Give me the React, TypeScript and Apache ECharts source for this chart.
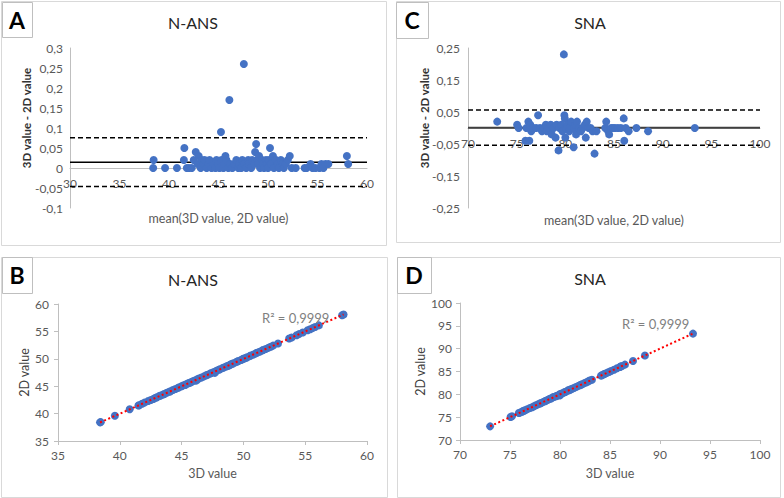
import React, { useEffect, useRef } from 'react';
import * as echarts from 'echarts';

// N-ANS: mean(3D, 2D) and difference (3D - 2D)
const nansMean = [
  38.4, 38.45, 39.6, 40.8, 41.5, 41.55, 41.8, 42.0, 42.3, 42.5,
  42.7, 42.9, 43.0, 43.2, 43.3, 43.5, 43.6, 43.8, 44.0, 44.1,
  44.3, 44.5, 44.7, 44.8, 45.0, 45.1, 45.25, 45.3, 45.5, 45.6,
  45.7, 45.8, 46.0, 46.1, 46.2, 46.4, 46.6, 46.8, 47.0, 47.1,
  47.3, 47.4, 47.56, 47.6, 47.8, 48.0, 48.1, 48.3, 48.4, 48.6,
  48.7, 48.8, 48.9, 49.0, 49.1, 49.2, 49.4, 49.5, 49.6, 49.8,
  49.9, 50.0, 50.1, 50.2, 50.3, 50.5, 50.6, 50.8, 51.0, 51.1,
  51.3, 51.5, 51.6, 51.8, 52.0, 52.2, 52.4, 52.8, 53.7, 53.9,
  54.3, 54.5, 54.8, 55.2, 55.4, 55.6, 55.8, 56.1, 57.97, 58.1,
];
const nansDiff = [
  0, 0.02, 0, 0, 0.02, 0.05, 0, 0, 0, 0.02,
  0.04, 0.01, 0.03, 0, 0.02, 0.01, 0.02, 0, 0.01, 0.02,
  0, 0.01, 0, 0.02, 0.01, 0, 0.09, 0.02, 0, 0.01,
  0.03, 0.02, 0, 0.17, 0.01, 0, 0.01, 0.02, 0, 0.01,
  0, 0.02, 0.26, 0.01, 0, 0.02, 0.01, 0, 0.02, 0.01,
  0.04, 0.06, 0.02, 0.01, 0.03, 0, 0.02, 0.01, 0, 0.02,
  0.01, 0, 0.02, 0.05, 0.01, 0.03, 0, 0.02, 0.01, 0,
  0.02, 0.01, 0, 0.01, 0.02, 0.03, 0, 0, 0, 0,
  0.01, 0, 0, 0, 0.01, 0, 0.01, 0.01, 0.03, 0.01,
];
const nansBias = 0.0145;
const nansUpper = 0.0755;
const nansLower = -0.0465;

// SNA: mean(3D, 2D) and difference (3D - 2D)
const snaMean = [
  73.0, 75.05, 75.2, 75.9, 76.0, 76.2, 76.3, 76.4, 76.5, 76.7,
  77.0, 77.2, 77.4, 77.6, 77.8, 78.0, 78.1, 78.3, 78.5, 78.6,
  78.8, 79.0, 79.1, 79.3, 79.4, 79.6, 79.7, 79.85, 79.9, 79.95,
  80.0, 80.1, 80.2, 80.4, 80.5, 80.6, 80.85, 80.9, 81.0, 81.1,
  81.2, 81.4, 81.6, 81.8, 82.0, 82.1, 82.2, 82.4, 82.6, 82.8,
  83.0, 83.2, 84.1, 84.2, 84.4, 84.5, 84.7, 84.9, 85.1, 85.4,
  85.7, 86.0, 86.05, 86.2, 86.5, 87.3, 88.5, 93.3,
];
const snaDiff = [
  0.02, 0.01, 0, -0.04, 0, 0.02, -0.04, 0.01, -0.01, 0,
  0, 0.04, 0, -0.01, 0, 0.01, -0.01, 0, 0.01, -0.02,
  0, -0.03, 0.01, -0.07, 0, 0.01, -0.01, 0.23, 0.04, 0.03,
  -0.03, 0, 0.01, -0.01, 0, 0.02, -0.06, 0, 0.01, -0.02,
  0.02, 0, -0.01, 0, 0.01, -0.03, 0.02, 0, 0, -0.01,
  -0.08, -0.01, 0, 0.02, -0.01, -0.02, 0, 0, 0, 0,
  0, 0.03, -0.04, 0, -0.01, 0, -0.01, 0,
];
const snaBias = 0.001;
const snaUpper = 0.056;
const snaLower = -0.054;

const panelLetters = ['A', 'C', 'B', 'D'];
const panelTitles = ['N-ANS', 'SNA', 'N-ANS', 'SNA'];
const r2Text = 'R² = 0,9999';
const baTitleX = 'mean(3D value, 2D value)';
const baTitleY = '3D value - 2D value';
const scTitleX = '3D value';
const scTitleY = '2D value';

const BLUE = '#4472C4';
const LABEL = '#595959';
const AXIS = '#bfbfbf';
const FONT = 'Lato, "Noto Sans", sans-serif';

const comma = (v: number) => String(+v.toFixed(3)).replace('.', ',');

function regression(xs: number[], ys: number[]) {
  const n = xs.length;
  const mx = xs.reduce((a, b) => a + b, 0) / n;
  const my = ys.reduce((a, b) => a + b, 0) / n;
  let sxy = 0, sxx = 0;
  for (let i = 0; i < n; i++) { sxy += (xs[i] - mx) * (ys[i] - my); sxx += (xs[i] - mx) ** 2; }
  const slope = sxy / sxx;
  const icpt = my - slope * mx;
  const x0 = Math.min(...xs), x1 = Math.max(...xs);
  return [[x0, icpt + slope * x0], [x1, icpt + slope * x1]];
}

export default function App() {
  const ref = useRef<HTMLDivElement>(null);
  useEffect(() => {
    if (!ref.current) return;
    const chart = echarts.init(ref.current, undefined, { renderer: 'svg' });

    const nans3D = nansMean.map((m, i) => m + nansDiff[i] / 2);
    const nans2D = nansMean.map((m, i) => m - nansDiff[i] / 2);
    const sna3D = snaMean.map((m, i) => m + snaDiff[i] / 2);
    const sna2D = snaMean.map((m, i) => m - snaDiff[i] / 2);

    const grids = [
      { left: 70, top: 48, width: 297, height: 160 },
      { left: 468, top: 48, width: 292, height: 160 },
      { left: 58, top: 304, width: 309, height: 137 },
      { left: 460, top: 303, width: 300, height: 137 },
    ].map((g) => ({ ...g, containLabel: false, outerBoundsMode: 'none' }));

    const labelStyle = { color: LABEL, fontSize: 12, fontFamily: FONT };
    const nameStyle = { color: LABEL, fontSize: 12.5, fontFamily: FONT };

    const xAxes = [
      { gridIndex: 0, min: 30, max: 60, interval: 5, nameGap: 44, name: baTitleX, offset: -40,
        axisTick: { show: false }, axisLabel: { ...labelStyle, margin: 9 } },
      { gridIndex: 1, min: 70, max: 100, interval: 5, nameGap: 86, name: baTitleX, offset: -80,
        axisTick: { show: false }, axisLabel: { ...labelStyle, margin: 9 } },
      { gridIndex: 2, min: 35, max: 60, interval: 5, nameGap: 26, name: scTitleX,
        axisTick: { show: true, length: 4, lineStyle: { color: AXIS } }, axisLabel: { ...labelStyle, margin: 8 } },
      { gridIndex: 3, min: 70, max: 100, interval: 5, nameGap: 27, name: scTitleX,
        axisTick: { show: true, length: 4, lineStyle: { color: AXIS } }, axisLabel: { ...labelStyle, margin: 8 } },
    ].map((a) => ({ type: 'value', position: 'bottom', nameLocation: 'middle', nameTextStyle: nameStyle,
      splitLine: { show: false }, axisLine: { show: true, onZero: false, lineStyle: { color: AXIS } }, ...a }));

    const yAxes = [
      { gridIndex: 0, min: -0.1, max: 0.3, interval: 0.05,
        axisTick: { show: false }, axisLabel: { ...labelStyle, margin: 7, formatter: (v: number) => comma(v) } },
      { gridIndex: 1, min: -0.25, max: 0.25, interval: 0.05,
        axisTick: { show: false }, axisLabel: { ...labelStyle, margin: 8, formatter: (v: number) => {
          const k = Math.round(v / 0.05);
          return Math.abs(k) % 2 === 1 ? comma(v) : '';
        } } },
      { gridIndex: 2, min: 35, max: 60, interval: 5, name: scTitleY, nameGap: 25,
        axisTick: { show: true, length: 4, lineStyle: { color: AXIS } }, axisLabel: { ...labelStyle, margin: 9 } },
      { gridIndex: 3, min: 70, max: 100, interval: 5, name: scTitleY, nameGap: 31,
        axisTick: { show: true, length: 4, lineStyle: { color: AXIS } }, axisLabel: { ...labelStyle, margin: 8 } },
    ].map((a) => ({ type: 'value', position: 'left', nameLocation: 'middle', nameRotate: 90,
      nameTextStyle: { ...nameStyle, color: '#404040' }, splitLine: { show: false },
      axisLine: { show: true, onZero: false, lineStyle: { color: AXIS } }, ...a }));

    const hline = (idx: number, x0: number, x1: number, v: number, dashed: boolean, color: string, width: number) => ({
      type: 'line', xAxisIndex: idx, yAxisIndex: idx, data: [[x0, v], [x1, v]], symbol: 'none', silent: true, z: 2,
      lineStyle: { color, width, type: dashed ? [5, 3] : 'solid' },
    });

    const scatter = (idx: number, data: number[][]) => ({
      type: 'scatter', xAxisIndex: idx, yAxisIndex: idx, data, symbolSize: 8, z: 3,
      itemStyle: { color: BLUE, opacity: 1 },
    });

    const trend = (idx: number, data: number[][]) => ({
      type: 'line', xAxisIndex: idx, yAxisIndex: idx, data, symbol: 'none', silent: true, z: 4,
      lineStyle: { color: '#ff0000', width: 2, type: [2, 2.5] },
    });

    const panels = [
      { x: 1, y: 1, w: 385, h: 244, bx: 2, by: 2, bw: 30, bh: 35, tx: 193, ty: 22 },
      { x: 396, y: 1, w: 384, h: 241, bx: 396, by: 2, bw: 32, bh: 36, tx: 590, ty: 22 },
      { x: 1, y: 257, w: 386, h: 240, bx: 2, by: 257, bw: 30, bh: 36, tx: 193, ty: 279 },
      { x: 397, y: 257, w: 383, h: 240, bx: 397, by: 257, bw: 34, bh: 36, tx: 590, ty: 278 },
    ];

    const graphic: any[] = [];
    panels.forEach((p) => {
      graphic.push({ type: 'rect', left: p.x, top: p.y, z: 0, silent: true,
        shape: { width: p.w, height: p.h }, style: { fill: '#fff', stroke: '#d9d9d9', lineWidth: 1 } });
    });
    panels.forEach((p, i) => {
      graphic.push({ type: 'rect', left: p.bx, top: p.by, z: 10, silent: true,
        shape: { width: p.bw, height: p.bh }, style: { fill: '#fff', stroke: '#bfbfbf', lineWidth: 1 } });
      graphic.push({ type: 'text', x: p.bx + p.bw / 2, y: p.by + p.bh / 2, z: 11, silent: true,
        style: { text: panelLetters[i], font: `bold 23px ${FONT}`, fill: '#000', align: 'center', verticalAlign: 'middle' } });
      graphic.push({ type: 'text', x: p.tx, y: p.ty, z: 11, silent: true,
        style: { text: panelTitles[i], font: `16px ${FONT}`, fill: '#262626', align: 'center', verticalAlign: 'middle' } });
    });
    // rotated y-axis titles of the Bland-Altman panels
    [[26, 118], [424, 118]].forEach(([x, y]) => {
      graphic.push({ type: 'text', x, y, rotation: Math.PI / 2, z: 11, silent: true,
        style: { text: baTitleY, font: `bold 11.5px ${FONT}`, fill: '#333', align: 'center', verticalAlign: 'middle' } });
    });
    graphic.push({ type: 'text', x: 262, y: 318, z: 11, silent: true,
      style: { text: r2Text, font: `13px ${FONT}`, fill: '#7f7f7f', align: 'left', verticalAlign: 'middle' } });
    graphic.push({ type: 'text', x: 622, y: 324, z: 11, silent: true,
      style: { text: r2Text, font: `13px ${FONT}`, fill: '#7f7f7f', align: 'left', verticalAlign: 'middle' } });

    chart.setOption({
      animation: false,
      backgroundColor: '#fff',
      textStyle: { fontFamily: FONT },
      grid: grids,
      xAxis: xAxes,
      yAxis: yAxes,
      graphic: { elements: graphic },
      series: [
        hline(0, 30, 60, nansBias, false, '#000', 1.5),
        hline(0, 30, 60, nansUpper, true, '#000', 1.5),
        hline(0, 30, 60, nansLower, true, '#000', 1.5),
        scatter(0, nansMean.map((m, i) => [m, nansDiff[i]])),
        hline(1, 70, 100, snaBias, false, '#404040', 2),
        hline(1, 70, 100, snaUpper, true, '#000', 1.5),
        hline(1, 70, 100, snaLower, true, '#000', 1.5),
        scatter(1, snaMean.map((m, i) => [m, snaDiff[i]])),
        scatter(2, nans3D.map((v, i) => [v, nans2D[i]])),
        trend(2, regression(nans3D, nans2D)),
        scatter(3, sna3D.map((v, i) => [v, sna2D[i]])),
        trend(3, regression(sna3D, sna2D)),
      ],
    });
    return () => chart.dispose();
  }, []);
  return <div ref={ref} style={{ position: 'fixed', left: 0, top: 0, width: 784, height: 498 }} />;
}
